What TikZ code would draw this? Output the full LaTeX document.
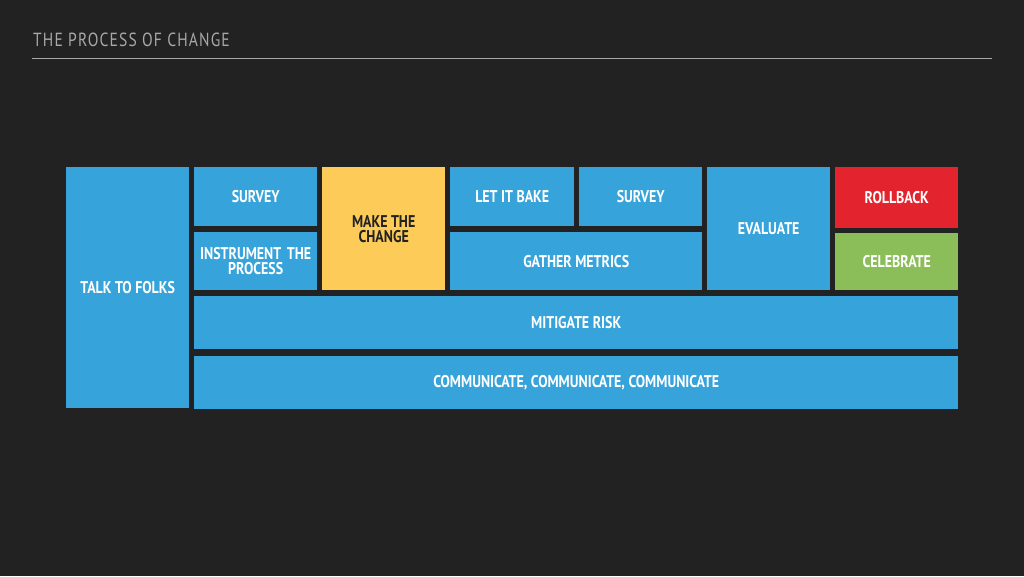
\documentclass[tikz,border=0pt]{standalone}
\usepackage{fontspec}
\setmainfont{PT Sans}[FakeStretch=0.82]
\usepackage{tikz}
\usetikzlibrary{positioning}
\definecolor{bgdark}{HTML}{222222}
\definecolor{stepblue}{HTML}{36A3DA}
\definecolor{stepyellow}{HTML}{FDCB58}
\definecolor{stepred}{HTML}{E3242F}
\definecolor{stepgreen}{HTML}{8BBD59}
\definecolor{titlegray}{HTML}{A8A8A8}
\begin{document}
\begin{tikzpicture}[x=1pt,y=-1pt,
box/.style={anchor=north west, fill=stepblue, inner sep=2pt, align=center, text=white, font=\fontsize{17}{17}\selectfont\bfseries},
]
\fill[bgdark] (0,0) rectangle (1024,576);
\useasboundingbox (0,0) rectangle (1024,576);

%Title
\node (title) [anchor=west, text=titlegray, inner sep=0pt, font=\fontsize{19}{19}\selectfont\addfontfeature{LetterSpace=6}] at (33,40) {THE PROCESS OF CHANGE};
\coordinate (rulel) at (32,58);
\coordinate (ruler) at (992,58);
\draw[titlegray, line width=1pt] (rulel) -- (ruler);

%Steps
\node[box, minimum width=123, minimum height=241] (talk) at (66,167) {TALK TO FOLKS};
\node[box, minimum width=123, minimum height=59] (survey1) at (194,167) {SURVEY};
\node[box, minimum width=123, minimum height=58, text width=119] (instrument) at (194,232) {INSTRUMENT THE\\[-2pt] PROCESS};
\node[box, fill=stepyellow, text=bgdark, minimum width=123, minimum height=123] (make) at (322,167) {MAKE THE\\[-2pt] CHANGE};
\node[box, minimum width=124, minimum height=59] (bake) at (450,167) {LET IT BAKE};
\node[box, minimum width=123, minimum height=59] (survey2) at (579,167) {SURVEY};
\node[box, minimum width=252, minimum height=58] (metrics) at (450,232) {GATHER METRICS};
\node[box, minimum width=123, minimum height=123] (evaluate) at (707,167) {EVALUATE};
\node[box, fill=stepred, minimum width=123, minimum height=61] (rollback) at (835,167) {ROLLBACK};
\node[box, fill=stepgreen, minimum width=123, minimum height=57] (celebrate) at (835,233) {CELEBRATE};
\node[box, minimum width=764, minimum height=53] (risk) at (194,296) {MITIGATE RISK};
\node[box, minimum width=764, minimum height=53] (communicate) at (194,356) {COMMUNICATE, COMMUNICATE, COMMUNICATE};
\end{tikzpicture}
\end{document}
